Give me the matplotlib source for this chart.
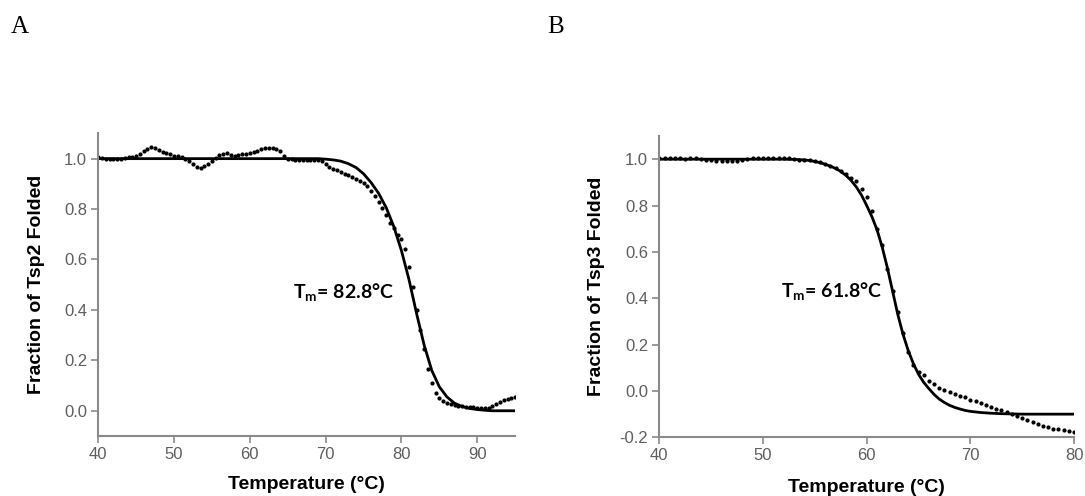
import matplotlib
matplotlib.use('Agg')
import matplotlib.pyplot as plt

# ---- panel A : Tsp2 ----
tsp2_temp = [40.0, 40.5, 41.0, 41.5, 42.0, 42.5, 43.0, 43.5, 44.0, 44.5,
             45.0, 45.5, 46.0, 46.5, 47.0, 47.5, 48.0, 48.5, 49.0, 49.5,
             50.0, 50.5, 51.0, 51.5, 52.0, 52.5, 53.0, 53.5, 54.0, 54.5,
             55.0, 55.5, 56.0, 56.5, 57.0, 57.5, 58.0, 58.5, 59.0, 59.5,
             60.0, 60.5, 61.0, 61.5, 62.0, 62.5, 63.0, 63.5, 64.0, 64.5,
             65.0, 65.5, 66.0, 66.5, 67.0, 67.5, 68.0, 68.5, 69.0, 69.5,
             70.0, 70.5, 71.0, 71.5, 72.0, 72.5, 73.0, 73.5, 74.0, 74.5,
             75.0, 75.5, 76.0, 76.5, 77.0, 77.5, 78.0, 78.5, 79.0, 79.5,
             80.0, 80.5, 81.0, 81.5, 82.0, 82.5, 83.0, 83.5, 84.0, 84.5,
             85.0, 85.5, 86.0, 86.5, 87.0, 87.5, 88.0, 88.5, 89.0, 89.5,
             90.0, 90.5, 91.0, 91.5, 92.0, 92.5, 93.0, 93.5, 94.0, 94.5, 95.0]
tsp2_frac = [1.005, 1.003, 1.000, 1.000, 0.998, 1.000, 1.000, 1.003, 1.005, 1.008,
             1.012, 1.020, 1.030, 1.040, 1.045, 1.043, 1.036, 1.028, 1.022, 1.018,
             1.012, 1.010, 1.005, 1.000, 0.990, 0.978, 0.968, 0.963, 0.970, 0.980,
             0.992, 1.004, 1.013, 1.020, 1.022, 1.016, 1.012, 1.014, 1.018, 1.020,
             1.022, 1.026, 1.032, 1.038, 1.042, 1.043, 1.042, 1.038, 1.030, 1.012,
             1.000, 0.998, 0.996, 0.995, 0.994, 0.995, 0.994, 0.995, 0.995, 0.990,
             0.978, 0.967, 0.960, 0.953, 0.947, 0.940, 0.934, 0.928, 0.920, 0.913,
             0.903, 0.890, 0.873, 0.853, 0.830, 0.803, 0.775, 0.745, 0.724, 0.697,
             0.680, 0.640, 0.572, 0.490, 0.400, 0.320, 0.244, 0.165, 0.110, 0.070,
             0.050, 0.038, 0.030, 0.026, 0.022, 0.020, 0.018, 0.016, 0.014, 0.013,
             0.012, 0.011, 0.011, 0.012, 0.018, 0.027, 0.035, 0.043, 0.048, 0.050, 0.053]

tsp2_fit_temp = [40, 50, 60, 68, 69, 70, 71, 72, 73, 74, 75, 76, 77, 78, 79, 80,
                 81, 82, 83, 84, 85, 86, 87, 88, 89, 90, 91, 92, 93, 94, 95]
tsp2_fit_frac = [1.0, 1.0, 1.0, 1.0, 1.0, 0.998, 0.995, 0.99, 0.98, 0.965, 0.94,
                 0.905, 0.862, 0.805, 0.73, 0.635, 0.52, 0.385, 0.26, 0.16, 0.095,
                 0.055, 0.03, 0.017, 0.009, 0.005, 0.002, 0.0, 0.0, 0.0, 0.0]

# ---- panel B : Tsp3 ----
tsp3_temp = [40.0, 40.5, 41.0, 41.5, 42.0, 42.5, 43.0, 43.5, 44.0, 44.5,
             45.0, 45.5, 46.0, 46.5, 47.0, 47.5, 48.0, 48.5, 49.0, 49.5,
             50.0, 50.5, 51.0, 51.5, 52.0, 52.5, 53.0, 53.5, 54.0, 54.5,
             55.0, 55.5, 56.0, 56.5, 57.0, 57.5, 58.0, 58.5, 59.0, 59.5,
             60.0, 60.5, 61.0, 61.5, 62.0, 62.5, 63.0, 63.5, 64.0, 64.5,
             65.0, 65.5, 66.0, 66.5, 67.0, 67.5, 68.0, 68.5, 69.0, 69.5,
             70.0, 70.5, 71.0, 71.5, 72.0, 72.5, 73.0, 73.5, 74.0, 74.5,
             75.0, 75.5, 76.0, 76.5, 77.0, 77.5, 78.0, 78.5, 79.0, 79.5, 80.0]
tsp3_frac = [1.003, 1.004, 1.003, 1.004, 1.003, 1.002, 1.006, 1.004, 1.000, 0.996,
             0.995, 0.993, 0.994, 0.990, 0.990, 0.993, 0.998, 1.002, 1.004, 1.006,
             1.007, 1.006, 1.004, 1.005, 1.004, 1.003, 1.000, 0.997, 0.998, 0.996,
             0.991, 0.986, 0.978, 0.971, 0.962, 0.950, 0.935, 0.918, 0.907, 0.870,
             0.835, 0.775, 0.700, 0.628, 0.525, 0.430, 0.340, 0.250, 0.170, 0.112,
             0.080, 0.068, 0.045, 0.030, 0.013, 0.004, -0.004, -0.012, -0.020, -0.028,
             -0.037, -0.045, -0.053, -0.062, -0.070, -0.078, -0.084, -0.091, -0.100, -0.108,
             -0.118, -0.127, -0.136, -0.144, -0.151, -0.157, -0.162, -0.166, -0.170, -0.173, -0.176]

tsp3_fit_temp = [40, 45, 50, 51, 52, 53, 54, 54.5, 55, 55.5, 56, 56.5, 57, 57.5,
                 58, 58.5, 59, 59.5, 60, 60.5, 61, 61.5, 62, 62.5, 63, 63.5, 64,
                 64.5, 65, 65.5, 66, 66.5, 67, 67.5, 68, 68.5, 69, 69.5, 70, 71,
                 72, 73, 74, 75, 80]
tsp3_fit_frac = [1.0, 1.0, 1.0, 1.0, 1.0, 0.999, 0.997, 0.994, 0.99, 0.985, 0.978,
                 0.97, 0.96, 0.947, 0.93, 0.908, 0.88, 0.845, 0.8, 0.752, 0.695,
                 0.62, 0.53, 0.43, 0.33, 0.245, 0.175, 0.118, 0.072, 0.037, 0.01,
                 -0.015, -0.035, -0.05, -0.062, -0.071, -0.078, -0.084, -0.088,
                 -0.093, -0.096, -0.098, -0.099, -0.1, -0.1]

plt.rcParams['font.family'] = ['Liberation Sans', 'DejaVu Sans']
plt.rcParams['mathtext.fontset'] = 'custom'
plt.rcParams['mathtext.rm'] = 'Lato:bold'
plt.rcParams['mathtext.it'] = 'Lato:bold'

spine_col = '#8a8a8a'
tick_col = '#5e5e5e'

fig = plt.figure(figsize=(10.85, 4.96), dpi=100)
ax_a = fig.add_axes([0.0905, 0.121, 0.3843, 0.610])
ax_b = fig.add_axes([0.6077, 0.1183, 0.3822, 0.6075])


def style(ax, ylabel, ycoord, xcoord):
    ax.spines['top'].set_visible(False)
    ax.spines['right'].set_visible(False)
    for s in ['left', 'bottom']:
        ax.spines[s].set_color(spine_col)
        ax.spines[s].set_linewidth(1.5)
    ax.tick_params(direction='out', length=5, width=1.2, color=spine_col,
                   labelcolor=tick_col, labelsize=12, pad=3)
    ax.set_ylabel(ylabel, fontsize=14, fontweight='bold')
    ax.set_xlabel('Temperature (°C)', fontsize=14, fontweight='bold')
    ax.yaxis.set_label_coords(ycoord, 0.5)
    ax.xaxis.set_label_coords(0.5, xcoord)


ax_a.plot(tsp2_temp, tsp2_frac, linestyle='none', marker='o', ms=2.0, color='black')
ax_a.plot(tsp2_fit_temp, tsp2_fit_frac, color='black', lw=2.0)
ax_a.set_xlim(40, 95)
ax_a.set_ylim(-0.1, 1.1)
ax_a.set_xticks([40, 50, 60, 70, 80, 90])
ax_a.set_yticks([0.0, 0.2, 0.4, 0.6, 0.8, 1.0])
ax_a.set_yticklabels(['0.0', '0.2', '0.4', '0.6', '0.8', '1.0'])
style(ax_a, 'Fraction of Tsp2 Folded', -0.128, -0.132)
ax_a.text(65.7, 0.47, r'T$_{\mathrm{m}}$= 82.8°C', family='Lato', fontweight='bold',
          fontsize=14, ha='left', va='center')

ax_b.plot(tsp3_temp, tsp3_frac, linestyle='none', marker='o', ms=2.0, color='black')
ax_b.plot(tsp3_fit_temp, tsp3_fit_frac, color='black', lw=2.0)
ax_b.set_xlim(40, 80)
ax_b.set_ylim(-0.2, 1.1)
ax_b.set_xticks([40, 50, 60, 70, 80])
ax_b.set_yticks([-0.2, 0.0, 0.2, 0.4, 0.6, 0.8, 1.0])
ax_b.set_yticklabels(['-0.2', '0.0', '0.2', '0.4', '0.6', '0.8', '1.0'])
style(ax_b, 'Fraction of Tsp3 Folded', -0.131, -0.137)
ax_b.text(51.7, 0.43, r'T$_{\mathrm{m}}$= 61.8°C', family='Lato', fontweight='bold',
          fontsize=14, ha='left', va='center')

fig.text(0.0184, 0.945, 'A', family='Liberation Serif', fontsize=18, ha='center', va='center')
fig.text(0.5120, 0.945, 'B', family='Liberation Serif', fontsize=18, ha='center', va='center')

fig.savefig('out.png', dpi=100)
